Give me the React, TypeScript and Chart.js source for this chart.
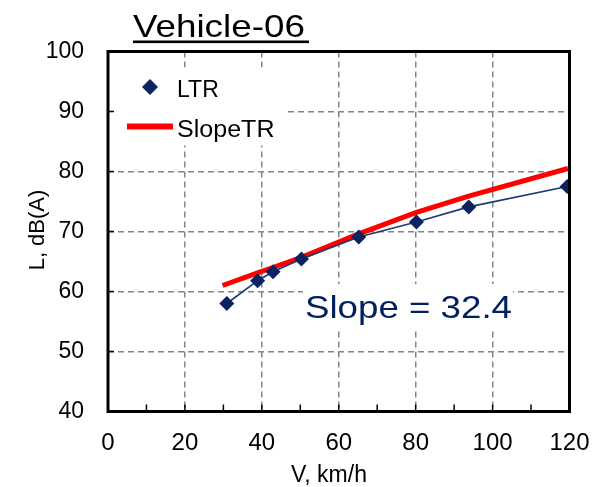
import React, { useEffect, useRef } from 'react';
import { Chart, registerables } from 'chart.js';

Chart.register(...registerables);

// ---- data ----
const speeds = [30.9, 38.9, 42.9, 50.3, 65.2, 80.2, 93.8, 119.4];
const ltrValues = [58.0, 61.8, 63.3, 65.4, 69.1, 71.6, 74.1, 77.5];
const slopeSpeeds = [29.8, 38.9, 42.9, 50.3, 65.2, 80.2, 93.8, 119.6];
const slopeValues = [61.0, 63.1, 64.0, 65.7, 69.6, 73.2, 75.9, 80.5];
const xTickValues = [0, 20, 40, 60, 80, 100, 120];
const yTickValues = [40, 50, 60, 70, 80, 90, 100];
const seriesNames = ['LTR', 'SlopeTR'];
const chartTitle = 'Vehicle-06';
const slopeLabel = 'Slope = 32.4';
const xAxisTitle = 'V, km/h';
const yAxisTitle = 'L, dB(A)';

const NAVY = '#0B2360';
const RED = '#FF0000';
const FONT = '"Liberation Sans", Arial, sans-serif';

const overlayPlugin = {
  id: 'overlay',
  afterDraw(chart: any) {
    const { ctx, chartArea: ca, scales } = chart;
    const xs = scales.x;
    const ys = scales.y;
    ctx.save();

    // white boxes behind legend and slope label
    ctx.fillStyle = '#ffffff';
    ctx.fillRect(ca.left + 2, ca.top + 16, 176, 78);
    ctx.fillRect(303, 284, 210, 47);

    // legend
    ctx.fillStyle = NAVY;
    ctx.beginPath();
    const dx = 150, dy = 87, r = 8;
    ctx.moveTo(dx - r, dy);
    ctx.lineTo(dx, dy - r);
    ctx.lineTo(dx + r, dy);
    ctx.lineTo(dx, dy + r);
    ctx.closePath();
    ctx.fill();
    ctx.fillStyle = '#000';
    ctx.font = `23px ${FONT}`;
    ctx.textAlign = 'left';
    ctx.textBaseline = 'alphabetic';
    ctx.fillText(seriesNames[0], 177, 97);
    ctx.strokeStyle = RED;
    ctx.lineWidth = 6;
    ctx.beginPath();
    ctx.moveTo(127, 126.5);
    ctx.lineTo(173, 126.5);
    ctx.stroke();
    ctx.save();
    ctx.translate(177, 137);
    ctx.scale(1.09, 1);
    ctx.fillText(seriesNames[1], 0, 0);
    ctx.restore();

    // slope label
    ctx.save();
    ctx.fillStyle = '#002060';
    ctx.font = `32px ${FONT}`;
    ctx.translate(305, 318);
    ctx.scale(1.146, 1);
    ctx.fillText(slopeLabel, 0, 0);
    ctx.restore();

    // inner tick marks
    ctx.strokeStyle = '#000';
    ctx.lineWidth = 1.5;
    for (let v = 10; v < 120; v += 10) {
      const px = xs.getPixelForValue(v);
      ctx.beginPath();
      ctx.moveTo(px, ca.bottom);
      ctx.lineTo(px, ca.bottom - 7);
      ctx.stroke();
    }
    for (let v = 50; v < 100; v += 10) {
      const py = ys.getPixelForValue(v);
      ctx.beginPath();
      ctx.moveTo(ca.left, py);
      ctx.lineTo(ca.left + 6, py);
      ctx.stroke();
    }

    // frame
    ctx.lineWidth = 3;
    ctx.strokeStyle = '#000';
    ctx.strokeRect(ca.left, ca.top, ca.right - ca.left, ca.bottom - ca.top);

    // title
    ctx.save();
    ctx.fillStyle = '#000';
    ctx.font = `32px ${FONT}`;
    ctx.translate(133, 37);
    ctx.scale(1.15, 1);
    ctx.fillText(chartTitle, 0, 0);
    ctx.restore();
    ctx.fillStyle = '#000';
    ctx.fillRect(133, 40.5, 176, 2.6);

    // axis titles
    ctx.font = `23px ${FONT}`;
    ctx.textAlign = 'center';
    ctx.textBaseline = 'alphabetic';
    ctx.fillText(xAxisTitle, 329, 481.5);
    ctx.save();
    ctx.font = `22px ${FONT}`;
    ctx.translate(43.5, 230);
    ctx.rotate(-Math.PI / 2);
    ctx.fillText(yAxisTitle, 0, 0);
    ctx.restore();

    ctx.restore();
  },
};

export default function App() {
  const ref = useRef<HTMLCanvasElement | null>(null);

  useEffect(() => {
    document.body.style.margin = '0';
    const canvas = ref.current;
    if (!canvas) return;
    const chart = new Chart(canvas, {
      type: 'scatter',
      data: {
        datasets: [
          {
            label: seriesNames[0],
            data: speeds.map((v, i) => ({ x: v, y: ltrValues[i] })),
            showLine: true,
            borderColor: '#1A3A78',
            borderWidth: 1.6,
            backgroundColor: NAVY,
            pointBackgroundColor: NAVY,
            pointBorderColor: NAVY,
            pointBorderWidth: 0,
            pointStyle: 'rectRot',
            pointRadius: 7.5,
          },
          {
            label: seriesNames[1],
            data: slopeSpeeds.map((v, i) => ({ x: v, y: slopeValues[i] })),
            showLine: true,
            borderColor: RED,
            borderWidth: 5,
            pointRadius: 0,
            tension: 0,
          },
        ],
      },
      options: {
        animation: false,
        responsive: false,
        devicePixelRatio: 1,
        layout: { autoPadding: false, padding: { left: 0, right: 33.5, top: 51.5, bottom: 0 } },
        plugins: {
          legend: { display: false },
          title: { display: false },
          tooltip: { enabled: false },
        },
        scales: {
          x: {
            type: 'linear',
            min: 0,
            max: 120,
            afterFit: (s: any) => {
              s.height = 75.5;
              s.paddingLeft = 0;
              s.paddingRight = 0;
            },
            afterBuildTicks: (s: any) => {
              s.ticks = xTickValues.map((v) => ({ value: v }));
            },
            ticks: {
              color: '#000',
              font: { family: FONT, size: 24 },
              padding: 17,
              maxRotation: 0,
              autoSkip: false,
            },
            grid: {
              color: '#858585',
              lineWidth: 1.5,
              drawTicks: false,
            },
            border: { display: false, dash: [6, 4] },
          },
          y: {
            type: 'linear',
            min: 40,
            max: 100,
            afterFit: (s: any) => {
              s.width = 108;
              s.paddingTop = 0;
              s.paddingBottom = 0;
            },
            afterBuildTicks: (s: any) => {
              s.ticks = yTickValues.map((v) => ({ value: v }));
            },
            ticks: {
              color: '#000',
              font: { family: FONT, size: 23 },
              padding: 24,
              autoSkip: false,
            },
            grid: {
              color: '#858585',
              lineWidth: 1.5,
              drawTicks: false,
            },
            border: { display: false, dash: [6, 4] },
          },
        },
      },
      plugins: [overlayPlugin],
    });
    return () => chart.destroy();
  }, []);

  return (
    <div style={{ position: 'fixed', left: 0, top: 0, width: 603, height: 487, background: '#fff' }}>
      <canvas ref={ref} width={603} height={487} style={{ width: 603, height: 487, display: 'block' }} />
    </div>
  );
}
